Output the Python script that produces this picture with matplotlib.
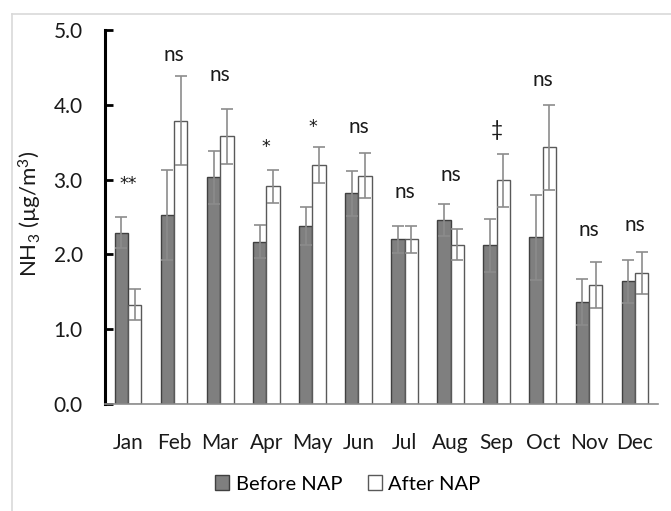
import matplotlib
matplotlib.use("Agg")
import matplotlib.pyplot as plt
import numpy as np
from matplotlib.patches import Rectangle
from matplotlib.lines import Line2D

plt.rcParams['font.family'] = ['Lato', 'DejaVu Sans']
plt.rcParams['mathtext.fontset'] = 'custom'
plt.rcParams['mathtext.rm'] = 'Lato'
plt.rcParams['mathtext.it'] = 'Lato:italic'
plt.rcParams['mathtext.bf'] = 'Lato:bold'

months = ["Jan", "Feb", "Mar", "Apr", "May", "Jun", "Jul", "Aug", "Sep", "Oct", "Nov", "Dec"]
before = [2.29, 2.53, 3.03, 2.17, 2.38, 2.82, 2.20, 2.46, 2.12, 2.23, 1.36, 1.64]
before_err = [0.21, 0.60, 0.35, 0.22, 0.25, 0.30, 0.18, 0.22, 0.35, 0.57, 0.31, 0.29]
after = [1.33, 3.79, 3.58, 2.91, 3.19, 3.05, 2.20, 2.13, 2.99, 3.43, 1.59, 1.75]
after_err = [0.21, 0.60, 0.37, 0.22, 0.24, 0.30, 0.18, 0.21, 0.35, 0.57, 0.31, 0.28]
sig_labels = ["**", "ns", "ns", "*", "*", "ns", "ns", "ns", "\u2021", "ns", "ns", "ns"]
sig_heights = [2.94, 4.67, 4.40, 3.44, 3.70, 3.70, 2.84, 3.06, 3.66, 4.33, 2.33, 2.39]

fig = plt.figure(figsize=(6.71, 5.11), dpi=100)
# light frame of the original picture
fig.add_artist(Line2D([12/671, 12/671], [0, 1 - 14/511], transform=fig.transFigure,
                      color="#d9d9d9", lw=1.2))
fig.add_artist(Line2D([12/671, 1], [1 - 14/511, 1 - 14/511], transform=fig.transFigure,
                      color="#d9d9d9", lw=1.2))

ax = fig.add_axes([105/671, 1 - 404/511, (658 - 105)/671, (404 - 30)/511])
x = np.arange(len(months))
w = 0.29
err_kw = dict(ecolor="#8c8c8c", elinewidth=1.2, capsize=4.5, capthick=1.2)
ax.bar(x - w/2, before, w, yerr=before_err, color="#7f7f7f", edgecolor="#404040",
       linewidth=1.0, error_kw=err_kw, label="Before NAP", zorder=2)
ax.bar(x + w/2, after, w, yerr=after_err, color="white", edgecolor="#595959",
       linewidth=1.0, error_kw=err_kw, label="After NAP", zorder=2)

for xi, lab, h in zip(x, sig_labels, sig_heights):
    if "*" in lab:
        ax.text(xi, h, lab, ha="center", va="center", fontsize=12.5, color="#1a1a1a",
                family=["DejaVu Sans"])
    else:
        ax.text(xi, h, lab, ha="center", va="center", fontsize=15, color="#1a1a1a")

ax.set_xlim(-0.5, len(months) - 0.5)
ax.set_ylim(0, 5)
ax.set_yticks([0, 1, 2, 3, 4, 5])
ax.set_yticklabels(["0.0", "1.0", "2.0", "3.0", "4.0", "5.0"])
ax.set_xticks(x)
ax.set_xticklabels(months)
ax.tick_params(axis="y", direction="in", length=6, width=2, labelsize=15, pad=16,
               colors="black", labelcolor="#1a1a1a")
ax.tick_params(axis="x", length=0, labelsize=15, pad=21, labelcolor="#1a1a1a")
for s in ["top", "right"]:
    ax.spines[s].set_visible(False)
ax.spines["left"].set_linewidth(2.2)
ax.spines["left"].set_color("black")
ax.spines["bottom"].set_linewidth(1.2)
ax.spines["bottom"].set_color("#8c8c8c")

ax.set_ylabel("NH$_3$ (\u00b5g/m$^3$)", fontsize=16, color="#1a1a1a")
ax.yaxis.set_label_coords(-0.11, 0.51)

handles = [Rectangle((0, 0), 1, 1, facecolor="#7f7f7f", edgecolor="#404040"),
           Rectangle((0, 0), 1, 1, facecolor="white", edgecolor="#595959")]
fig.legend(handles, ["Before NAP", "After NAP"], loc="center",
           bbox_to_anchor=(348/671, 1 - 484/511), ncol=2, frameon=False,
           fontsize=14.5, handlelength=0.7, handleheight=0.7, handletextpad=0.3,
           columnspacing=1.3)

fig.savefig("out.png", dpi=100)
